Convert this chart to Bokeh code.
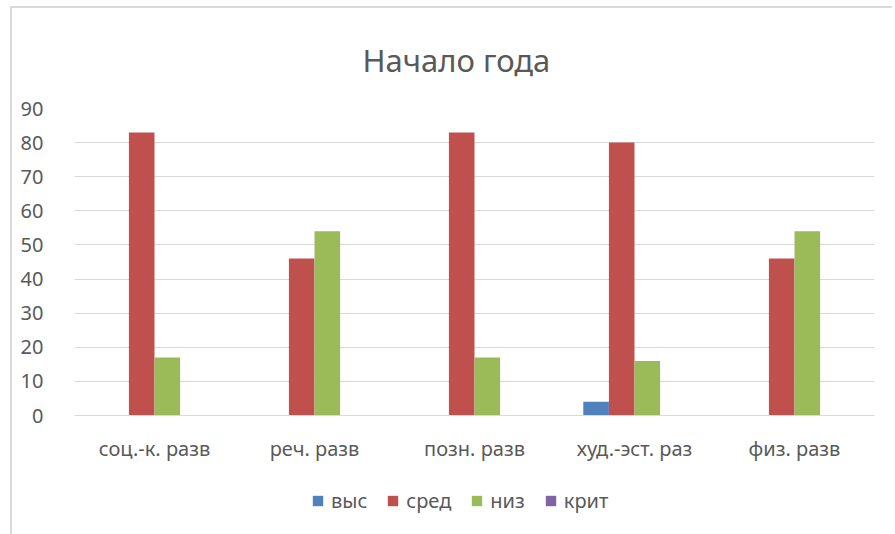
from bokeh.plotting import figure
from bokeh.layouts import column
from bokeh.models import FactorRange, Range1d, Legend, LegendItem, ColumnDataSource, FixedTicker
from bokeh.transform import dodge
from bokeh.embed import file_html
from bokeh.resources import INLINE

categories = ["соц.-к. разв", "реч. разв", "позн. разв", "худ.-эст. раз", "физ. разв"]
series_names = ["выс", "сред", "низ", "крит"]
vys = [0, 0, 0, 4, 0]
sred = [83, 46, 83, 80, 46]
niz = [17, 54, 17, 16, 54]
krit = [0, 0, 0, 0, 0]
y_ticks = [0, 10, 20, 30, 40, 50, 60, 70, 80, 90]
colors = ["#4F81BD", "#C0504D", "#9BBB59", "#8064A2"]

FONT = "Noto Sans"
TXT = "#595959"
GRID = "#D9D9D9"

source = ColumnDataSource(dict(cat=categories, vys=vys, sred=sred, niz=niz, krit=krit))

p = figure(x_range=FactorRange(*categories, range_padding=0), y_range=Range1d(0, 90),
           frame_width=800, frame_height=307, output_backend="svg", toolbar_location=None,
           min_border_left=62, min_border_right=18, min_border_top=99, min_border_bottom=50)

bw = 0.16
offsets = [-1.5 * bw, -0.5 * bw, 0.5 * bw, 1.5 * bw]
fields = ["vys", "sred", "niz", "krit"]
for f, off, c in zip(fields, offsets, colors):
    p.vbar(x=dodge("cat", off, range=p.x_range), top=f, bottom=0, width=bw,
           source=source, fill_color=c, line_color=None)

p.title.text = "Начало года"
p.title.text_font = FONT
p.title.text_font_size = "31px"
p.title.text_font_style = "normal"
p.title.text_color = TXT
p.title.align = "left"
p.title.standoff = 56
p.title.offset = 288

p.outline_line_color = None
p.xgrid.grid_line_color = None
p.ygrid.grid_line_color = GRID
p.ygrid.grid_line_width = 1

p.yaxis.ticker = FixedTicker(ticks=y_ticks)
p.yaxis.axis_line_color = None
p.yaxis.major_tick_line_color = None
p.yaxis.minor_tick_line_color = None
p.yaxis.major_label_text_font = FONT
p.yaxis.major_label_text_font_size = "20px"
p.yaxis.major_label_text_color = TXT
p.yaxis.major_label_standoff = 25

p.xaxis.axis_line_color = GRID
p.xaxis.major_tick_line_color = None
p.xaxis.minor_tick_line_color = None
p.xaxis.major_label_text_font = FONT
p.xaxis.major_label_text_font_size = "20px"
p.xaxis.major_label_text_color = TXT
p.xaxis.major_label_standoff = 13

# legend strip: same series, drawn off-range so only the legend shows
lf = figure(x_range=FactorRange(*categories, range_padding=0), y_range=Range1d(1000, 1001),
            width=880, height=70, output_backend="svg", toolbar_location=None,
            x_axis_type=None, y_axis_type=None,
            min_border_left=0, min_border_right=0, min_border_top=0, min_border_bottom=0)
lf.outline_line_color = None
lf.xgrid.visible = False
lf.ygrid.visible = False
leg_renderers = []
for f, off, c in zip(fields, offsets, colors):
    r = lf.vbar(x=dodge("cat", off, range=lf.x_range), top=f, bottom=0, width=bw,
                source=source, fill_color=c, line_color=None)
    leg_renderers.append(r)

legend = Legend(items=[LegendItem(label=n, renderers=[r]) for n, r in zip(series_names, leg_renderers)],
                orientation="horizontal", location=(237, 21),
                label_text_font=FONT, label_text_font_size="20px", label_text_color=TXT,
                label_height=20, glyph_width=13, glyph_height=13, label_standoff=7, spacing=19,
                border_line_color=None, background_fill_alpha=0, margin=0, padding=0)
lf.add_layout(legend, "center")

layout = column(p, lf, spacing=0)
layout.styles = {"border-left": "2px solid #D9D9D9", "border-top": "2px solid #D9D9D9",
                 "margin-left": "10px", "margin-top": "6px"}

open("out.html", "w").write(file_html(layout, INLINE))
